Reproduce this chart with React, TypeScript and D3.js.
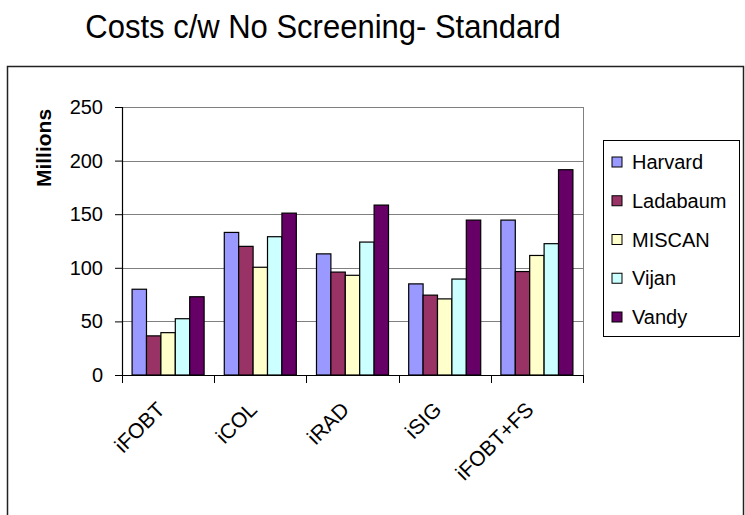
import { useEffect, useRef } from 'react'
import * as d3 from 'd3'

// Screening strategies (x categories)
const strategies = ['iFOBT', 'iCOL', 'iRAD', 'iSIG', 'iFOBT+FS']

// Models (series) and their Excel-style fills
const models = ['Harvard', 'Ladabaum', 'MISCAN', 'Vijan', 'Vandy']
const modelColors = ['#9999FF', '#993366', '#FFFFCC', '#CCFFFF', '#660066']

// Costs in millions, one array per model, in strategy order
const harvard = [80, 133, 113, 85, 144.5]
const ladabaum = [36.5, 120, 96, 74.5, 96.5]
const miscan = [39.5, 100.5, 93, 71, 111.5]
const vijan = [52.5, 129, 124, 89.5, 122.5]
const vandy = [73, 151, 158.5, 144.5, 191.5]

const yTicks = [0, 50, 100, 150, 200, 250]

const FONT = '"Liberation Sans", Arial, sans-serif'

function App() {
  const ref = useRef<SVGSVGElement | null>(null)

  useEffect(() => {
    if (!ref.current) return
    const svg = d3.select(ref.current)
    svg.selectAll('*').remove()

    const plot = { left: 122, right: 583, top: 107, bottom: 375 }
    const seriesValues = [harvard, ladabaum, miscan, vijan, vandy]

    // chart title
    svg.append('text')
      .attr('transform', 'translate(323,38) scale(1,1.08)')
      .attr('text-anchor', 'middle')
      .attr('font-family', FONT)
      .attr('font-size', 31)
      .attr('fill', '#000')
      .text('Costs c/w No Screening- Standard')

    // chart area frame (bottom edge runs off the page)
    svg.append('rect')
      .attr('x', 7.5)
      .attr('y', 66.5)
      .attr('width', 736)
      .attr('height', 500)
      .attr('fill', '#fff')
      .attr('stroke', '#222')
      .attr('stroke-width', 1.5)

    const x = d3.scaleBand<string>()
      .domain(strategies)
      .range([plot.left, plot.right])

    const y = d3.scaleLinear()
      .domain([0, 250])
      .range([plot.bottom, plot.top])

    // Excel gap width ~140%
    const barW = x.bandwidth() / (models.length + 1.4)
    const groupOffset = (x.bandwidth() - barW * models.length) / 2

    // gridlines
    svg.append('g')
      .selectAll('line')
      .data(yTicks.filter(t => t > 0))
      .enter()
      .append('line')
      .attr('x1', plot.left)
      .attr('x2', plot.right)
      .attr('y1', d => Math.round(y(d)) + 0.5)
      .attr('y2', d => Math.round(y(d)) + 0.5)
      .attr('stroke', '#808080')
      .attr('stroke-width', 1)

    // right border of plot area
    svg.append('line')
      .attr('x1', plot.right + 0.5)
      .attr('x2', plot.right + 0.5)
      .attr('y1', plot.top)
      .attr('y2', plot.bottom)
      .attr('stroke', '#808080')

    // bars
    seriesValues.forEach((vals, si) => {
      svg.append('g')
        .selectAll('rect')
        .data(vals)
        .enter()
        .append('rect')
        .attr('x', (d, i) => (x(strategies[i]) ?? 0) + groupOffset + si * barW)
        .attr('y', d => y(d))
        .attr('width', barW)
        .attr('height', d => y(0) - y(d))
        .attr('fill', modelColors[si])
        .attr('stroke', '#000')
        .attr('stroke-width', 1.2)
    })

    // y axis
    const yAxis = svg.append('g')
      .attr('transform', `translate(${plot.left},0)`)
      .call(d3.axisLeft(y).tickValues(yTicks).tickSize(7).tickPadding(12))
    yAxis.select('.domain').attr('stroke', '#000').attr('stroke-width', 1.2)
    yAxis.selectAll('line').attr('stroke', '#000')
    yAxis.selectAll('text')
      .attr('font-family', FONT)
      .attr('font-size', 20)
      .attr('fill', '#000')

    // x axis: ticks at category boundaries
    svg.append('line')
      .attr('x1', plot.left)
      .attr('x2', plot.right)
      .attr('y1', plot.bottom + 0.5)
      .attr('y2', plot.bottom + 0.5)
      .attr('stroke', '#000')
      .attr('stroke-width', 1.2)

    const boundaries = strategies.map(s => x(s) ?? 0).concat([plot.right])
    svg.append('g')
      .selectAll('line')
      .data(boundaries)
      .enter()
      .append('line')
      .attr('x1', d => Math.round(d) + 0.5)
      .attr('x2', d => Math.round(d) + 0.5)
      .attr('y1', plot.bottom)
      .attr('y2', plot.bottom + 8)
      .attr('stroke', '#000')

    // rotated category labels
    svg.append('g')
      .selectAll('text')
      .data(strategies)
      .enter()
      .append('text')
      .attr('transform', d => {
        const cx = (x(d) ?? 0) + x.bandwidth() / 2 - 2
        return `translate(${cx},${plot.bottom + 36}) rotate(-45)`
      })
      .attr('text-anchor', 'end')
      .attr('font-family', FONT)
      .attr('font-size', 21)
      .attr('fill', '#000')
      .text(d => d)

    // y axis title
    svg.append('text')
      .attr('transform', `translate(51,148) rotate(-90)`)
      .attr('text-anchor', 'middle')
      .attr('font-family', FONT)
      .attr('font-size', 21)
      .attr('font-weight', 'bold')
      .attr('fill', '#000')
      .text('Millions')

    // legend
    const legend = svg.append('g')
    legend.append('rect')
      .attr('x', 603.5)
      .attr('y', 140.5)
      .attr('width', 136)
      .attr('height', 196)
      .attr('fill', '#fff')
      .attr('stroke', '#000')
      .attr('stroke-width', 1)

    const rowY = d3.scalePoint<string>()
      .domain(models)
      .range([162, 317])

    const rows = legend.selectAll('g.row')
      .data(models)
      .enter()
      .append('g')
      .attr('class', 'row')
      .attr('transform', d => `translate(0,${rowY(d)})`)

    rows.append('rect')
      .attr('x', 612)
      .attr('y', -5)
      .attr('width', 10)
      .attr('height', 10)
      .attr('fill', (d, i) => modelColors[i])
      .attr('stroke', '#000')
      .attr('stroke-width', 1)

    rows.append('text')
      .attr('x', 632)
      .attr('y', 7)
      .attr('font-family', FONT)
      .attr('font-size', 20)
      .attr('fill', '#000')
      .text(d => d)
  }, [])

  return (
    <svg
      ref={ref}
      width={745}
      height={515}
      style={{ position: 'absolute', left: 0, top: 0, background: '#fff' }}
    />
  )
}

export default App
